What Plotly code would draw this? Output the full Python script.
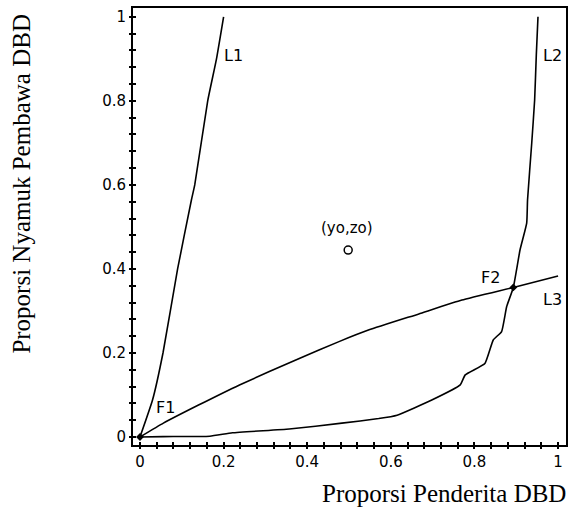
import plotly.graph_objects as go

# Curves (x = proporsi penderita, z = proporsi nyamuk pembawa)
L1_x = [0, 0.03, 0.055, 0.09, 0.123, 0.131, 0.162, 0.183, 0.2]
L1_z = [0, 0.088, 0.2, 0.4, 0.564, 0.6, 0.8, 0.9, 1.0]

L2_x = [0, 0.055, 0.167, 0.221, 0.357, 0.483, 0.571, 0.615, 0.698, 0.766, 0.778,
        0.825, 0.845, 0.865, 0.877, 0.893, 0.909, 0.925, 0.927, 0.937, 0.944, 0.948, 0.952]
L2_z = [0, 0.001, 0.002, 0.01, 0.019, 0.033, 0.044, 0.052, 0.088, 0.124, 0.148,
        0.175, 0.231, 0.251, 0.31, 0.356, 0.445, 0.509, 0.564, 0.699, 0.802, 0.91, 1.0]

L3_x = [0, 0.056, 0.14, 0.238, 0.381, 0.476, 0.548, 0.667, 0.77, 0.893, 1.0]
L3_z = [0, 0.033, 0.076, 0.124, 0.187, 0.227, 0.255, 0.293, 0.326, 0.356, 0.383]

fixed_x = [0, 0.893]
fixed_z = [0, 0.356]
start_x = [0.498]
start_z = [0.445]

tick_vals = [round(i * 0.04, 2) for i in range(26)]
tick_major = [0, 0.2, 0.4, 0.6, 0.8, 1.0]
tick_text = [("1" if v == 1.0 else ("0" if v == 0 else f"{v:g}")) if any(abs(v - m) < 1e-9 for m in tick_major) else "" for v in tick_vals]

labels = [("L1", 0.224, 0.907), ("L2", 0.987, 0.908), ("L3", 0.986, 0.327),
          ("F1", 0.062, 0.071), ("F2", 0.838, 0.38)]

XR = [-0.0167, 1.019]
YR = [-0.019, 1.021]

fig = go.Figure()
line = dict(color="black", width=1.6, shape="spline", smoothing=0.4)
fig.add_trace(go.Scatter(x=L1_x, y=L1_z, mode="lines", line=line))
fig.add_trace(go.Scatter(x=L2_x, y=L2_z, mode="lines", line=line))
fig.add_trace(go.Scatter(x=L3_x, y=L3_z, mode="lines", line=line))
fig.add_trace(go.Scatter(x=fixed_x, y=fixed_z, mode="markers",
                         marker=dict(symbol="diamond", size=6, color="black")))
fig.add_trace(go.Scatter(x=start_x, y=start_z, mode="markers",
                         marker=dict(symbol="circle-open", size=8, color="black", line=dict(width=1.5))))
# helper trace for overlay axes
fig.add_trace(go.Scatter(x=[0.5], y=[0.5], xaxis="x2", yaxis="y2", mode="markers",
                         marker=dict(opacity=0), hoverinfo="skip"))

tickfont = dict(family="DejaVu Sans", size=15, color="black")
common = dict(tickmode="array", tickvals=tick_vals, ticktext=tick_text,
              showgrid=False, zeroline=False, tickcolor="black", tickwidth=1.5)

fig.update_layout(
    width=569, height=512,
    margin=dict(l=133, r=1, t=8, b=67),
    paper_bgcolor="white", plot_bgcolor="white",
    showlegend=False,
    xaxis=dict(range=XR, ticks="inside", ticklen=3, showticklabels=False,
               showline=True, linecolor="black", linewidth=2, mirror=True, **common),
    yaxis=dict(range=YR, ticks="inside", ticklen=3, showticklabels=False,
               showline=True, linecolor="black", linewidth=2, mirror=True, **common),
    xaxis2=dict(range=XR, overlaying="x", anchor="y2", side="bottom", ticks="outside", ticklen=3,
                showticklabels=True, tickfont=tickfont, showline=False, **common),
    yaxis2=dict(range=YR, overlaying="y", anchor="x2", side="left", ticks="outside", ticklen=3,
                showticklabels=True, tickfont=tickfont, showline=False, **common),
)

lblfont = dict(family="DejaVu Sans", size=16, color="black")
for t, x, y in labels:
    fig.add_annotation(x=x, y=y, text=t, showarrow=False, font=lblfont, xref="x", yref="y")
fig.add_annotation(x=0.495, y=0.498, text="(yo,zo)", showarrow=False, font=tickfont, xref="x", yref="y")
fig.add_annotation(x=-0.076, y=0.498, text="z", showarrow=False, font=tickfont, xref="x", yref="y")

titlefont = dict(family="Liberation Serif", size=25, color="black")
fig.add_annotation(x=0.718, y=-0.112, xref="paper", yref="paper", text="Proporsi Penderita DBD",
                   showarrow=False, font=titlefont, xanchor="center", yanchor="middle")
fig.add_annotation(x=-0.2575, y=0.597, xref="paper", yref="paper", text="Proporsi Nyamuk Pembawa DBD",
                   showarrow=False, font=titlefont, textangle=-90, xanchor="center", yanchor="middle")

fig.write_html("out.html")
